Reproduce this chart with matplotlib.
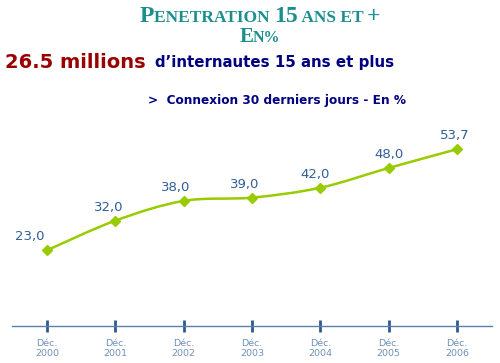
import numpy as np
import matplotlib
matplotlib.use("Agg")
import matplotlib.pyplot as plt
from matplotlib.path import Path
from matplotlib.patches import PathPatch
from matplotlib.offsetbox import TextArea, HPacker, AnchoredOffsetbox

years = ["2000", "2001", "2002", "2003", "2004", "2005", "2006"]
values = [23.0, 32.0, 38.0, 39.0, 42.0, 48.0, 53.7]
value_labels = ["23,0", "32,0", "38,0", "39,0", "42,0", "48,0", "53,7"]
tick_labels = ["Déc.\n" + y for y in years]

teal = "#1B8E8E"
navy = "#000080"
blue = "#2F5F98"
green = "#99CC00"

fig = plt.figure(figsize=(5, 3.63), dpi=100)
ax = fig.add_axes([0.024, 0.1019, 0.96, 0.595])

x = np.arange(len(values))
ax.set_xlim(-0.512, 6.512)
ax.set_ylim(0, 65.6)

# smoothed line (Catmull-Rom through the points, like Excel)
pts = np.column_stack([x, values]).astype(float)
verts = [tuple(pts[0])]
codes = [Path.MOVETO]
for i in range(len(pts) - 1):
    p0 = pts[i - 1] if i > 0 else pts[i]
    p1 = pts[i]
    p2 = pts[i + 1]
    p3 = pts[i + 2] if i + 2 < len(pts) else pts[i + 1]
    c1 = p1 + (p2 - p0) / 6
    c2 = p2 - (p3 - p1) / 6
    verts += [tuple(c1), tuple(c2), tuple(p2)]
    codes += [Path.CURVE4] * 3
ax.add_patch(PathPatch(Path(verts, codes), fill=False, edgecolor=green, lw=1.8))
ax.plot(x, values, ls="none", marker="D", ms=5.5, color=green)

label_dx = [-17, -7, -8, -7, -5, 0, -2]
for xi, v, lab, dx in zip(x, values, value_labels, label_dx):
    ax.annotate(lab, (xi, v), xytext=(dx * 0.72, 5), textcoords="offset points",
                ha="center", va="bottom", fontsize=9.5, color=blue)

for s in ["top", "right", "left"]:
    ax.spines[s].set_visible(False)
ax.spines["bottom"].set_color("#5580B0")
ax.spines["bottom"].set_linewidth(1)
ax.set_yticks([])
ax.set_xticks(x)
ax.set_xticklabels(tick_labels, fontsize=6.8, color="#7090B8", linespacing=1.25)
ax.tick_params(axis="x", direction="inout", length=8, width=2, color="#2F5A90", pad=5)

# title in small caps
def small_caps(parts, y):
    boxes = [TextArea(t, textprops=dict(fontsize=fs, color=teal, fontweight="bold",
                                        family="Liberation Serif")) for t, fs in parts]
    pack = HPacker(children=boxes, align="baseline", pad=0, sep=0)
    ab = AnchoredOffsetbox(loc="center", child=pack, frameon=False,
                           bbox_to_anchor=(0.52, y), bbox_transform=fig.transFigure,
                           borderpad=0, pad=0)
    fig.add_artist(ab)

small_caps([("P", 17), ("ENETRATION ", 12.5), ("15", 17), (" ANS ET ", 12.5), ("+", 17)], 0.955)
small_caps([("E", 15), ("N%", 11.5)], 0.897)

fig.text(0.01, 0.828, "26.5 millions", fontsize=14, fontweight="bold", color="#990000",
         va="center")
fig.text(0.31, 0.828, "d\u2019internautes 15 ans et plus", fontsize=10.8, fontweight="bold",
         color=navy, va="center")
fig.text(0.296, 0.724, ">  Connexion 30 derniers jours - En %", fontsize=8.7,
         fontweight="bold", color=navy, va="center")

fig.savefig("out.png", dpi=100)
